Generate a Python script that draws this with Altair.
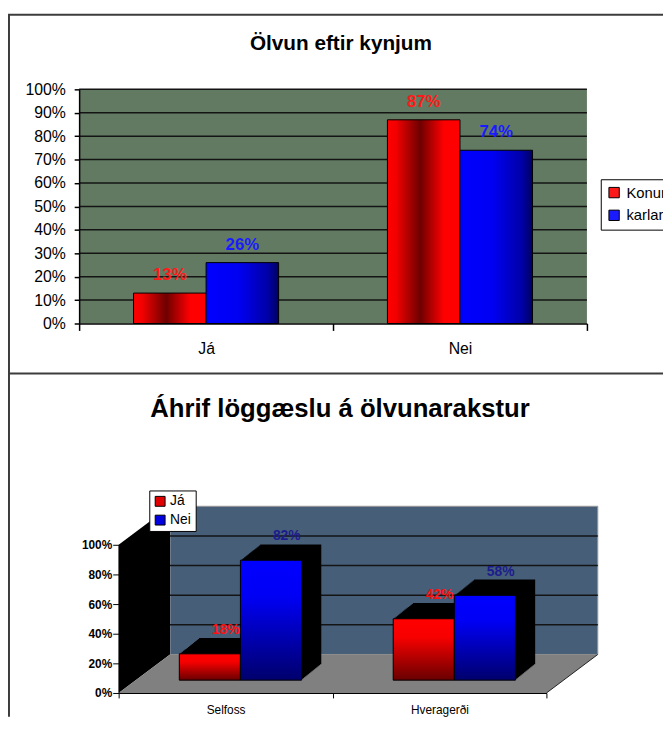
import altair as alt
import pandas as pd

FONT = "Liberation Sans"

# ---------------- data ----------------
top_title = "Ölvun eftir kynjum"
top_categories = ["Já", "Nei"]
top_series = ["Konur", "karlar"]
top_konur = [0.13, 0.87]
top_karlar = [0.26, 0.74]
top_ticks = [0.0, 0.1, 0.2, 0.3, 0.4, 0.5, 0.6, 0.7, 0.8, 0.9, 1.0]

bottom_title = "Áhrif löggæslu á ölvunarakstur"
bottom_categories = ["Selfoss", "Hveragerði"]
bottom_series = ["Já", "Nei"]
bottom_ja = [0.18, 0.42]
bottom_nei = [0.82, 0.58]
bottom_ticks = [0.0, 0.2, 0.4, 0.6, 0.8, 1.0]

top_df = pd.DataFrame({
    "cat": top_categories + top_categories,
    "grp": [top_series[0]] * len(top_categories) + [top_series[1]] * len(top_categories),
    "value": top_konur + top_karlar,
})
bottom_df = pd.DataFrame({
    "cat": bottom_categories + bottom_categories,
    "grp": [bottom_series[0]] * len(bottom_categories) + [bottom_series[1]] * len(bottom_categories),
    "value": bottom_ja + bottom_nei,
})
top_grid_df = pd.DataFrame({"tick": top_ticks[1:]})
bottom_grid_df = pd.DataFrame({"tick": bottom_ticks[1:-1]})
one = pd.DataFrame({"_": [0]})

# ---------------- layout (pixels, chart coordinates) ----------------
W, H = 663, 713
TOP_X = [72, 586]
TOP_Y = [315, 78]
AX_X = [112, 545]
AX_Y = [689, 539]
DEPTH = (52, -39)
WALL_X = [AX_X[0] + DEPTH[0], AX_X[1] + DEPTH[0]]
WALL_Y = [AX_Y[0] + DEPTH[1], AX_Y[1] + DEPTH[1]]
BAR_X = [127, 560]
BAR_Y = [676, 528]
STEPS = 16
EXT = (1.25, -1.0)


def grad(stops, vertical=False):
    return {
        "gradient": "linear",
        "x1": 0, "y1": 0,
        "x2": 0 if vertical else 1,
        "y2": 1 if vertical else 0,
        "stops": [{"offset": o, "color": c} for o, c in stops],
    }


RED_H = grad([(0, "#ff0000"), (0.12, "#f20000"), (0.45, "#6e0000"), (0.78, "#ff0000"), (1, "#ff0000")])
BLUE_H = grad([(0, "#0000ff"), (0.45, "#0000f2"), (0.85, "#0000a8"), (1, "#000060")])
RED_V = grad([(0, "#ff0000"), (0.3, "#f80000"), (1, "#680000")], vertical=True)
BLUE_V = grad([(0, "#0000ff"), (0.3, "#0000f5"), (1, "#00006c")], vertical=True)

# ---------------- frames ----------------
FRAME = "#3c3c3c"
frame_left = alt.Chart(one).mark_rule(color=FRAME, strokeWidth=2).encode(
    x=alt.value(1), y=alt.value(2), y2=alt.value(H))
frame_top = alt.Chart(one).mark_rule(color=FRAME, strokeWidth=2).encode(
    x=alt.value(0), x2=alt.value(W), y=alt.value(2.5))
frame_mid = alt.Chart(one).mark_rule(color=FRAME, strokeWidth=2).encode(
    x=alt.value(0), x2=alt.value(W), y=alt.value(365.5))

# ---------------- top chart ----------------
def tx():
    return alt.Scale(domain=top_categories, range=TOP_X, paddingInner=0, paddingOuter=0)


def ty():
    return alt.Scale(domain=[0, 1], range=TOP_Y)


txo = alt.Scale(domain=top_series, paddingInner=0, paddingOuter=0.75)

top_axes = alt.Chart(top_df).mark_point(opacity=0).encode(
    x=alt.X("cat:N", scale=tx(), axis=alt.Axis(
        orient="bottom", offset=-(H - TOP_Y[0]), title=None, tickBand="extent",
        tickSize=7, tickColor="#000", tickWidth=1.5, domainColor="#000",
        domainWidth=1.5, labelFontSize=16, labelFont=FONT, labelColor="#000",
        labelPadding=10, labelAngle=0, zindex=1)),
    y=alt.Y("value:Q", scale=ty(), axis=alt.Axis(
        orient="left", offset=-TOP_X[0], values=top_ticks, format=".0%", title=None,
        grid=False, labelFontSize=16, labelFont=FONT, labelColor="#000",
        tickSize=5, tickColor="#000", tickWidth=1.5, domainColor="#000",
        domainWidth=1.5, labelPadding=9, zindex=1)))

top_bg = alt.Chart(one).mark_rect(color="#627a62").encode(
    x=alt.value(TOP_X[0]), x2=alt.value(TOP_X[1]),
    y=alt.YDatum(0, scale=ty(), axis=None, type="quantitative"), y2=alt.Y2Datum(1))
top_grid = alt.Chart(top_grid_df).mark_rule(color="#141414", strokeWidth=1.5).encode(
    y=alt.Y("tick:Q", scale=ty(), axis=None), x=alt.value(TOP_X[0]), x2=alt.value(TOP_X[1]))


def top_bar(series, fill):
    return alt.Chart(top_df).transform_filter(alt.datum.grp == series).mark_bar(
        color=fill, stroke="#000", strokeWidth=1).encode(
        x=alt.X("cat:N", scale=tx(), axis=None),
        xOffset=alt.XOffset("grp:N", scale=txo),
        y=alt.Y("value:Q", scale=ty(), axis=None))


top_labels = alt.Chart(top_df).mark_text(font=FONT, fontSize=17, fontWeight="bold", dy=-18,
                                          baseline="middle").encode(
    x=alt.X("cat:N", scale=tx(), axis=None),
    xOffset=alt.XOffset("grp:N", scale=txo),
    y=alt.Y("value:Q", scale=ty(), axis=None),
    text=alt.Text("value:Q", format=".0%"),
    color=alt.Color("grp:N", scale=alt.Scale(domain=top_series, range=["#ff1a1a", "#1a1aff"]),
                    legend=alt.Legend(title=None, orient="none", legendX=600, legendY=169,
                                      strokeColor="#000", fillColor="#fff", padding=6,
                                      symbolType="square", symbolSize=110, symbolStrokeColor="#000",
                                      symbolStrokeWidth=1, symbolOpacity=1, labelFontSize=15,
                                      labelFont=FONT, labelColor="#000", rowPadding=7,
                                      labelOffset=5)))
top_title_mark = alt.Chart(pd.DataFrame({"t": [top_title]})).mark_text(
    font=FONT, fontSize=21, fontWeight="bold", align="center", baseline="alphabetic").encode(
    text="t:N", x=alt.value(337), y=alt.value(38))

top = alt.layer(top_bg, top_grid, top_bar(top_series[0], RED_H),
                top_bar(top_series[1], BLUE_H), top_labels, top_title_mark)

# ---------------- bottom chart (3D look) ----------------
bax = alt.Scale(domain=bottom_categories, range=AX_X, paddingInner=0, paddingOuter=0)
bay = alt.Scale(domain=[0, 1], range=AX_Y)
bwy = alt.Scale(domain=[0, 1], range=WALL_Y)
bxo = alt.Scale(domain=bottom_series, paddingInner=0, paddingOuter=0.75)

bottom_axes = alt.Chart(bottom_df).mark_point(opacity=0).encode(
    x=alt.X("cat:N", scale=bax, axis=alt.Axis(orient="bottom", offset=-(H - AX_Y[0]), title=None,
                                              tickBand="extent", tickSize=5, tickColor="#000",
                                              domainColor="#000", domainWidth=1.2,
                                              labelFontSize=12, labelFont=FONT, labelColor="#000",
                                              labelPadding=7, labelAngle=0, zindex=1)),
    y=alt.Y("value:Q", scale=bay, axis=alt.Axis(orient="left", offset=-AX_X[0], values=bottom_ticks,
                                                format=".0%", title=None, grid=False,
                                                labelFontSize=12, labelFontWeight="bold",
                                                labelFont=FONT, labelColor="#000", tickSize=6,
                                                tickColor="#000", domainColor="#000",
                                                labelPadding=1, zindex=1)))

wall_rect = alt.Chart(one).mark_rect(color="#465e78", stroke="#9a9a9a", strokeWidth=1).encode(
    x=alt.value(WALL_X[0]), x2=alt.value(WALL_X[1]),
    y=alt.YDatum(0, scale=bwy, axis=None, type="quantitative"), y2=alt.Y2Datum(1))
wall_grid = alt.Chart(bottom_grid_df).mark_rule(color="#141414", strokeWidth=1.5).encode(
    y=alt.Y("tick:Q", scale=bwy, axis=None), x=alt.value(WALL_X[0]), x2=alt.value(WALL_X[1]))
wall = alt.layer(wall_rect, wall_grid)

left_wall_df = pd.DataFrame({"x": [AX_X[0], WALL_X[0]], "top": [AX_Y[1], WALL_Y[1]],
                             "bot": [AX_Y[0], WALL_Y[0]]})
left_wall = alt.Chart(left_wall_df).mark_area(color="#000", orient="vertical").encode(
    x=alt.X("x:Q", scale=None, axis=None), y=alt.Y("top:Q", scale=None, axis=None), y2="bot:Q")

floor_df = pd.DataFrame({"y": [AX_Y[0], WALL_Y[0]], "x": [AX_X[0], WALL_X[0]],
                         "x2": [AX_X[1], WALL_X[1]]})
floor = alt.Chart(floor_df).mark_area(color="#808080", orient="horizontal").encode(
    y=alt.Y("y:Q", scale=None, axis=None), x=alt.X("x:Q", scale=None, axis=None), x2="x2:Q")
floor_edge = alt.Chart(one).mark_rule(color="#222", strokeWidth=1).encode(
    x=alt.value(AX_X[1]), y=alt.value(AX_Y[0]), x2=alt.value(WALL_X[1]), y2=alt.value(WALL_Y[0]))

extrusions = []
for k in range(STEPS, 0, -1):
    sx = alt.Scale(domain=bottom_categories, range=[BAR_X[0] + EXT[0] * k, BAR_X[1] + EXT[0] * k],
                   paddingInner=0, paddingOuter=0)
    sy = alt.Scale(domain=[0, 1], range=[BAR_Y[0] + EXT[1] * k, BAR_Y[1] + EXT[1] * k])
    extrusions.append(alt.Chart(bottom_df).mark_bar(color="#000").encode(
        x=alt.X("cat:N", scale=sx, axis=None),
        xOffset=alt.XOffset("grp:N", scale=bxo),
        y=alt.Y("value:Q", scale=sy, axis=None)))

bbx = alt.Scale(domain=bottom_categories, range=BAR_X, paddingInner=0, paddingOuter=0)
bby = alt.Scale(domain=[0, 1], range=BAR_Y)


def front(series, fill):
    return alt.Chart(bottom_df).transform_filter(alt.datum.grp == series).mark_bar(
        color=fill, stroke="#000", strokeWidth=1).encode(
        x=alt.X("cat:N", scale=bbx, axis=None),
        xOffset=alt.XOffset("grp:N", scale=bxo),
        y=alt.Y("value:Q", scale=bby, axis=None))


bottom_labels = alt.Chart(bottom_df).mark_text(font=FONT, fontSize=14, fontWeight="bold", dx=16,
                                                dy=-24, baseline="middle").encode(
    x=alt.X("cat:N", scale=bbx, axis=None),
    xOffset=alt.XOffset("grp:N", scale=bxo),
    y=alt.Y("value:Q", scale=bby, axis=None),
    text=alt.Text("value:Q", format=".0%"),
    color=alt.Color("grp:N", scale=alt.Scale(domain=bottom_series, range=["#ff1010", "#1c1c8c"]),
                    legend=None))
bottom_front = alt.layer(front(bottom_series[0], RED_V), front(bottom_series[1], BLUE_V), bottom_labels)

bottom_legend = alt.Chart(bottom_df).mark_square(opacity=0, size=10).encode(
    x=alt.value(0), y=alt.value(0),
    color=alt.Color("grp:N", scale=alt.Scale(domain=bottom_series, range=["#e00000", "#0000e0"]),
                    legend=alt.Legend(title=None, orient="none", legendX=143, legendY=484,
                                      strokeColor="#000", fillColor="#fff", padding=4,
                                      symbolType="square", symbolSize=100, symbolStrokeColor="#000",
                                      symbolStrokeWidth=1, symbolOpacity=1, labelFontSize=14,
                                      labelFont=FONT, labelColor="#000", rowPadding=5,
                                      labelOffset=3)))

bottom_title_mark = alt.Chart(pd.DataFrame({"t": [bottom_title]})).mark_text(
    font=FONT, fontSize=26, fontWeight="bold", align="center", baseline="alphabetic").encode(
    text="t:N", x=alt.value(336), y=alt.value(410))

chart = alt.layer(
    frame_left, frame_top, frame_mid, top, top_axes,
    wall, left_wall, floor, floor_edge, bottom_axes,
    *extrusions, bottom_front, bottom_legend, bottom_title_mark,
).resolve_scale(
    x="independent", y="independent", color="independent", xOffset="independent"
).properties(
    width=W, height=H, padding=0, autosize=alt.AutoSizeParams(type="none")
).configure_view(strokeWidth=0)

chart.save("out.html", embed_options={"renderer": "svg", "actions": False})
